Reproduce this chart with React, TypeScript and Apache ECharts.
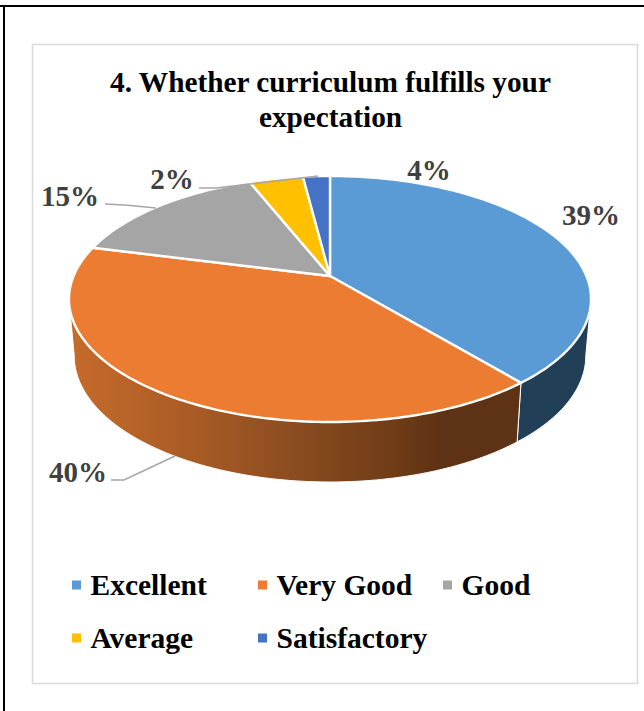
import React, { useEffect, useRef } from "react";
import * as echarts from "echarts";

const titleText = "4. Whether curriculum fulfills your\nexpectation";
const categories = ["Excellent", "Very Good", "Good", "Average", "Satisfactory"];
const values = [39, 40, 15, 4, 2];
const topColors = ["#5B9BD5", "#EB7C31", "#A5A5A5", "#FFC000", "#4472C4"];
const wallStops: [number, string][][] = [
  [[0, "#223F58"], [1, "#223F58"]],
  [[0, "#C66B2B"], [0.28, "#A85B25"], [0.5, "#8A4C20"], [0.73, "#6E3B16"], [0.82, "#5E3214"], [1, "#5E3214"]],
  [[0, "#6D6D6D"], [1, "#6D6D6D"]],
  [[0, "#A87F00"], [1, "#A87F00"]],
  [[0, "#2C4B81"], [1, "#2C4B81"]],
];
// layout of labels: centre of text and leader line (empty = no leader)
const labelAt = [[591, 215], [78, 472], [70, 196], [429, 170], [172, 179]];
const leaders: number[][][] = [
  [],
  [[111, 480], [124, 480], [175, 456]],
  [[105, 204], [125, 205], [156, 208]],
  [],
  [[199, 188], [216, 188], [318, 176]],
];
const legendAt = [[72, 570], [258, 570], [443, 570], [72, 623], [258, 623]];

const CX = 330, CY = 276, A = 256.4, B = 118.7, K = 0.187;
const FONT = '"Liberation Serif", "Times New Roman", serif';
const total = values.reduce((a, b) => a + b, 0);

function topPt(frac: number) {
  const t = 2 * Math.PI * frac;
  const u = Math.sin(t), v = -Math.cos(t);
  const d = 1 - K * v;
  return { x: CX + (A * u) / d, y: CY + (B * v) / d, v };
}
function botPt(frac: number) {
  const p = topPt(frac);
  return [CX + (p.x - CX) * 0.98, p.y + 56 + 4 * p.v];
}
const WALL_FROM = Math.acos(-K) / (2 * Math.PI);
const WALL_TO = 1 - WALL_FROM;

function renderSlice(index: number) {
  return (_params: any, api: any) => {
    const value = api.value(0);
    let before = 0;
    for (let i = 0; i < index; i++) before += values[i];
    const f0 = before / total;
    const f1 = (before + value) / total;
    const children: any[] = [];
    const w0 = Math.max(f0, WALL_FROM), w1 = Math.min(f1, WALL_TO);
    if (w1 > w0) {
      const n = Math.max(2, Math.ceil((w1 - w0) * 360));
      const up: number[][] = [], down: number[][] = [];
      for (let i = 0; i <= n; i++) {
        const f = w0 + ((w1 - w0) * i) / n;
        const p = topPt(f);
        up.push([p.x, p.y]);
        down.unshift(botPt(f));
      }
      children.push({
        type: "polygon",
        shape: { points: up.concat(down) },
        style: {
          fill: new echarts.graphic.LinearGradient(0, 0, 1, 0,
            wallStops[index].map(([offset, color]) => ({ offset, color }))),
          stroke: "#FFFFFF",
          lineWidth: 1,
        },
      });
    }
    const pts: number[][] = [[CX, CY]];
    const m = Math.max(2, Math.ceil((f1 - f0) * 360));
    for (let i = 0; i <= m; i++) {
      const p = topPt(f0 + ((f1 - f0) * i) / m);
      pts.push([p.x, p.y]);
    }
    children.push({
      type: "polygon",
      shape: { points: pts },
      style: { fill: topColors[index], stroke: "#FFFFFF", lineWidth: 2.4, lineJoin: "round" },
    });
    if (leaders[index].length) {
      children.push({
        type: "polyline",
        shape: { points: leaders[index] },
        style: { stroke: "#A6A6A6", lineWidth: 1.5, fill: "none" },
      });
    }
    children.push({
      type: "text",
      style: {
        text: `${value}%`,
        x: labelAt[index][0],
        y: labelAt[index][1],
        align: "center",
        verticalAlign: "middle",
        fill: "#404040",
        font: `bold 29px ${FONT}`,
      },
    });
    return { type: "group", children };
  };
}

export default function App() {
  const ref = useRef<HTMLDivElement>(null);
  useEffect(() => {
    document.body.style.margin = "0";
    const chart = echarts.init(ref.current!, null, { renderer: "svg" });
    chart.setOption({
      animation: false,
      backgroundColor: "#FFFFFF",
      title: {
        text: titleText,
        left: 330.5,
        top: 64,
        padding: 0,
        textAlign: "center",
        textStyle: { fontFamily: FONT, fontWeight: "bold", fontSize: 29.3, lineHeight: 35, color: "#000000" },
      },
      legend: categories.map((name, i) => ({
        data: [name],
        left: legendAt[i][0],
        top: legendAt[i][1],
        icon: "rect",
        itemWidth: 9,
        itemHeight: 9,
        padding: 0,
        textStyle: {
          fontFamily: FONT, fontWeight: "bold", fontSize: 29.5, color: "#000000",
          padding: [0, 0, 0, 4.5],
        },
      })),
      graphic: [
        { type: "rect", silent: true, z: -10, shape: { x: 0, y: 5, width: 644, height: 2 }, style: { fill: "#000000" } },
        { type: "rect", silent: true, z: -10, shape: { x: 3, y: 5, width: 2, height: 706 }, style: { fill: "#000000" } },
        { type: "rect", silent: true, z: -10, shape: { x: 32.5, y: 44.5, width: 605, height: 639 }, style: { fill: "#FFFFFF", stroke: "#D9D9D9", lineWidth: 1.5 } },
      ],
      series: categories.map((name, i) => ({
        type: "custom",
        name,
        coordinateSystem: "none",
        itemStyle: { color: topColors[i] },
        data: [[values[i]]],
        renderItem: renderSlice(i),
        silent: true,
      })),
    });
    return () => chart.dispose();
  }, []);
  return <div ref={ref} style={{ position: "absolute", left: 0, top: 0, width: 644, height: 711 }} />;
}
